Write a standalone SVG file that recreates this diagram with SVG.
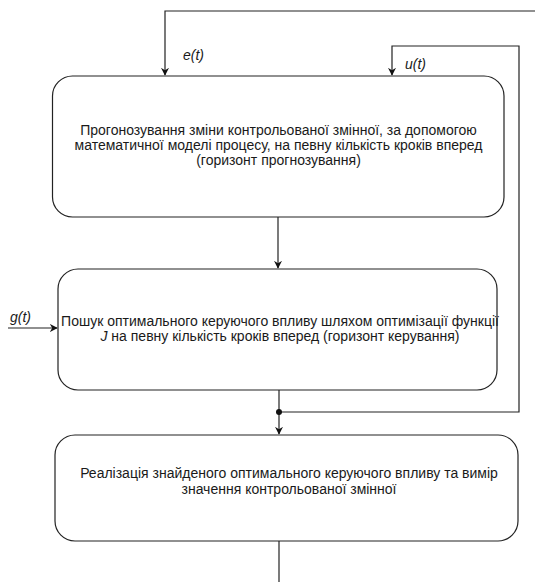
<svg xmlns="http://www.w3.org/2000/svg" width="535" height="582" viewBox="0 0 535 582">
  <style>
    .box { fill: #ffffff; stroke: #222222; stroke-width: 1.2; }
    .txt { font-family: "Liberation Sans", Arial, sans-serif; font-size: 14px; fill: #1a1a1a; text-anchor: middle; }
    .lbl { font-family: "Liberation Sans", Arial, sans-serif; font-size: 14px; font-style: italic; fill: #1a1a1a; }
    .wire { fill: none; stroke: #222222; stroke-width: 1.2; }
  </style>
  <defs>
    <marker id="arrow" viewBox="0 0 10 10" refX="9" refY="5" markerWidth="8" markerHeight="8" markerUnits="userSpaceOnUse" orient="auto">
      <path d="M0,0 L10,5 L0,10 L3,5 Z" fill="#111111"/>
    </marker>
  </defs>
  <rect width="535" height="582" fill="#ffffff"/>

  <g id="connectors">
    <!-- e(t) feedback entering from the right -->
    <path class="wire" d="M540,11 H165 V75" marker-end="url(#arrow)"/>
    <!-- u(t) loop from the junction back to the prediction block -->
    <path class="wire" d="M279,412 H519 V46 H392 V75" marker-end="url(#arrow)"/>
    <!-- block 1 to block 2 -->
    <path class="wire" d="M278,217 V268" marker-end="url(#arrow)"/>
    <!-- block 2 to block 3 -->
    <path class="wire" d="M279,390 V434" marker-end="url(#arrow)"/>
    <circle cx="279" cy="412" r="3" fill="#111111"/>
    <!-- g(t) input -->
    <path class="wire" d="M8,328 H57" marker-end="url(#arrow)"/>
    <!-- output below block 3 -->
    <path class="wire" d="M279,541 V582"/>
  </g>

  <g id="label-e">
    <text class="lbl" x="183" y="60">e(t)</text>
  </g>
  <g id="label-u">
    <text class="lbl" x="405" y="69">u(t)</text>
  </g>
  <g id="label-g">
    <text class="lbl" x="10" y="322">g(t)</text>
  </g>

  <g id="prediction">
    <rect class="box" x="52.5" y="76" width="451.5" height="141" rx="20" ry="20"/>
    <text class="txt" x="278.5" y="135">Прогонозування зміни контрольованої змінної, за допомогою</text>
    <text class="txt" x="278.5" y="150">математичної моделі процесу, на певну кількість кроків вперед</text>
    <text class="txt" x="278.5" y="165">(горизонт прогнозування)</text>
  </g>

  <g id="optimisation">
    <rect class="box" x="58" y="269" width="439" height="121" rx="20" ry="20"/>
    <text class="txt" x="280" y="325.5">Пошук оптимального керуючого впливу шляхом оптимізації функції</text>
    <text class="txt" x="280" y="341"><tspan font-style="italic">J</tspan> на певну кількість кроків вперед (горизонт керування)</text>
  </g>

  <g id="execution">
    <rect class="box" x="55" y="435" width="463" height="106" rx="20" ry="20"/>
    <text class="txt" x="289" y="478">Реалізація знайденого оптимального керуючого впливу та вимір</text>
    <text class="txt" x="289" y="493.5">значення контрольованої змінної</text>
  </g>
</svg>
